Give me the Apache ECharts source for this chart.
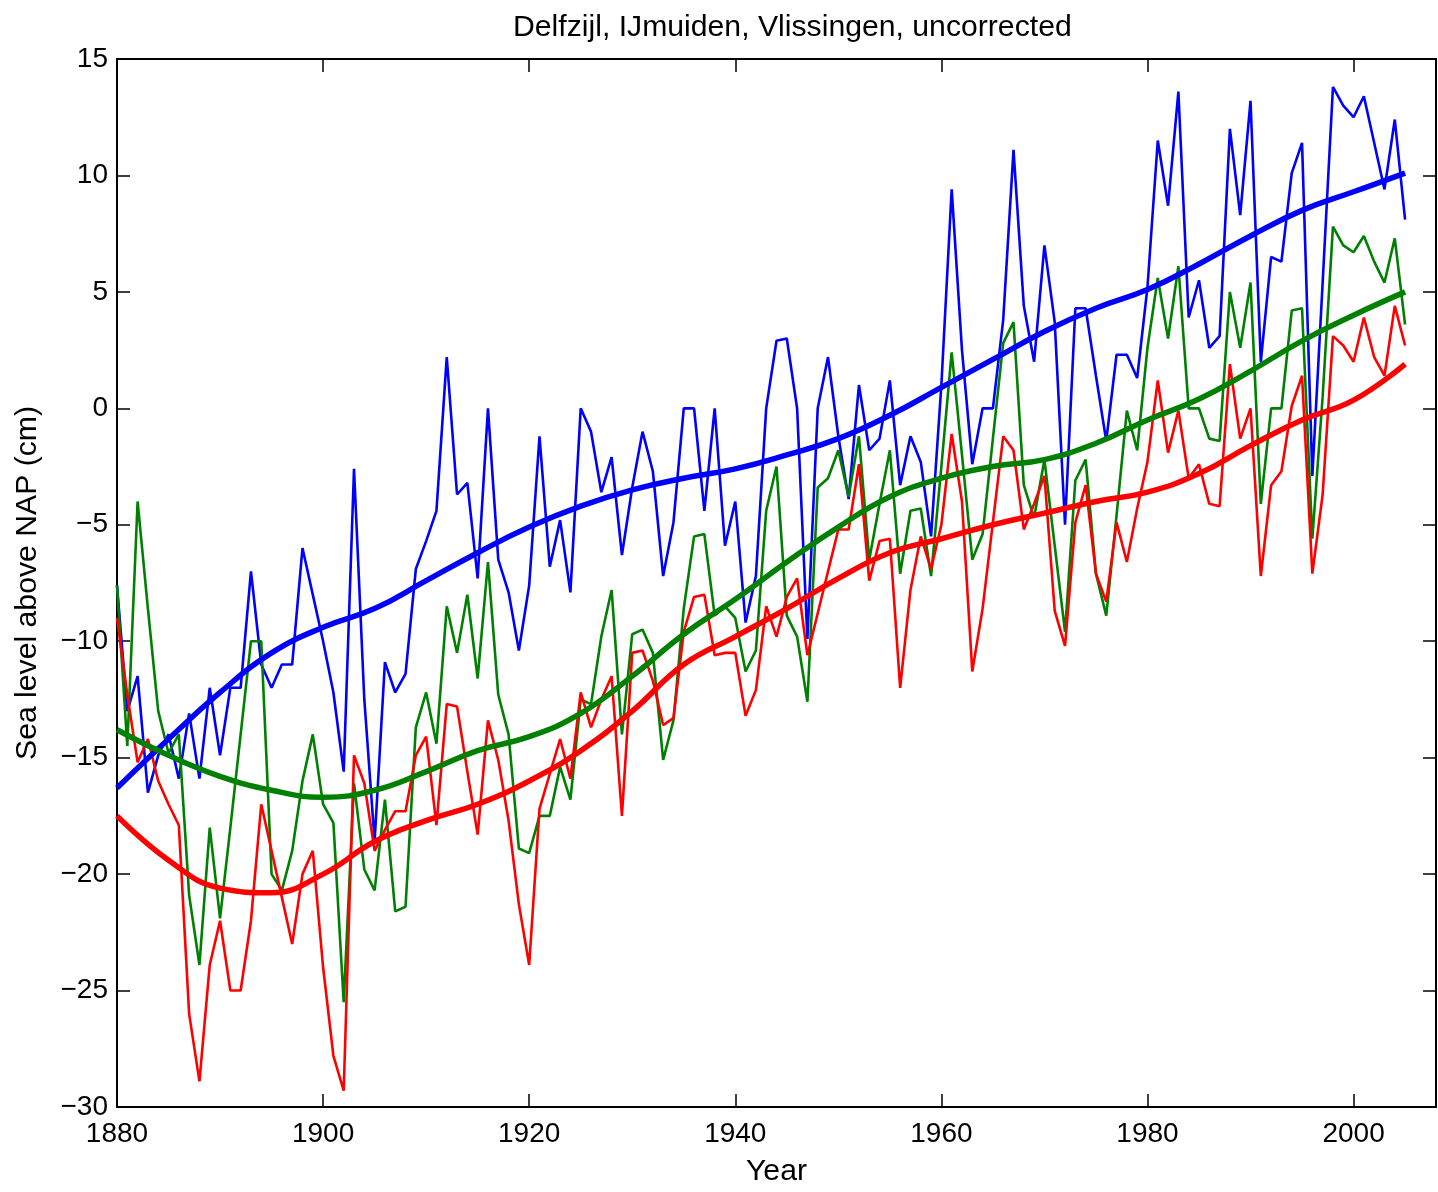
<!DOCTYPE html>
<html>
<head>
<meta charset="utf-8">
<script src="https://cdn.jsdelivr.net/npm/echarts@6/dist/echarts.min.js"></script>
<style>
html,body{margin:0;padding:0;background:#fff;}
#chart{width:1438px;height:1192px;}
</style>
</head>
<body>
<div id="chart"></div>
<script>
// ---- data ----
const titleText = 'Delfzijl, IJmuiden, Vlissingen, uncorrected';
const xAxisName = 'Year';
const yAxisName = 'Sea level above NAP (cm)';

const years = [1880,1881,1882,1883,1884,1885,1886,1887,1888,1889,
1890,1891,1892,1893,1894,1895,1896,1897,1898,1899,
1900,1901,1902,1903,1904,1905,1906,1907,1908,1909,
1910,1911,1912,1913,1914,1915,1916,1917,1918,1919,
1920,1921,1922,1923,1924,1925,1926,1927,1928,1929,
1930,1931,1932,1933,1934,1935,1936,1937,1938,1939,
1940,1941,1942,1943,1944,1945,1946,1947,1948,1949,
1950,1951,1952,1953,1954,1955,1956,1957,1958,1959,
1960,1961,1962,1963,1964,1965,1966,1967,1968,1969,
1970,1971,1972,1973,1974,1975,1976,1977,1978,1979,
1980,1981,1982,1983,1984,1985,1986,1987,1988,1989,
1990,1991,1992,1993,1994,1995,1996,1997,1998,1999,
2000,2001,2002,2003,2004,2005];

// blue
const delfzijl = [-7.6,-13.0,-11.5,-16.5,-14.9,-14.0,-15.9,-13.1,-15.9,-12.0,
-14.9,-12.0,-12.0,-7.0,-11.0,-12.0,-11.0,-11.0,-6.0,-8.0,
-10.0,-12.2,-15.6,-2.6,-12.5,-18.6,-10.9,-12.2,-11.4,-6.9,
-5.7,-4.4,2.2,-3.7,-3.2,-7.3,0.0,-6.5,-7.9,-10.4,
-7.6,-1.2,-6.8,-4.8,-7.9,0.0,-1.0,-3.6,-2.1,-6.3,
-3.4,-1.0,-2.7,-7.2,-4.9,0.0,0.0,-4.4,0.0,-5.9,
-4.0,-9.2,-7.2,0.0,2.9,3.0,0.0,-9.9,0.0,2.2,
-1.2,-3.9,1.0,-1.8,-1.3,1.2,-3.3,-1.2,-2.3,-5.5,
1.0,9.4,2.5,-2.4,0.0,0.0,3.8,11.1,4.4,2.0,
7.0,3.7,-5.0,4.3,4.3,1.4,-1.4,2.3,2.3,1.3,
5.2,11.5,8.7,13.6,3.9,5.5,2.6,3.1,12.0,8.3,
13.2,2.0,6.5,6.3,10.1,11.4,-2.9,5.4,13.8,13.0,
12.5,13.4,11.4,9.4,12.4,8.1];

// green
const ijmuiden = [-7.6,-14.5,-4.0,-8.6,-13.0,-14.8,-14.0,-20.9,-23.9,-18.0,
-21.9,-18.0,-14.0,-10.0,-10.0,-20.0,-20.7,-19.0,-16.0,-14.0,
-17.0,-17.8,-25.5,-16.1,-19.8,-20.7,-16.8,-21.6,-21.4,-13.7,
-12.2,-14.4,-8.5,-10.5,-8.0,-11.6,-6.6,-12.3,-14.0,-18.9,
-19.1,-17.5,-17.5,-15.4,-16.8,-12.5,-12.7,-9.8,-7.8,-14.0,
-9.7,-9.5,-10.5,-15.1,-13.4,-8.6,-5.5,-5.4,-8.9,-8.5,
-9.0,-11.3,-10.4,-4.4,-2.5,-8.9,-9.8,-12.6,-3.4,-3.0,
-1.8,-3.8,-1.2,-6.5,-4.1,-1.8,-7.1,-4.4,-4.3,-7.2,
-2.5,2.4,-2.0,-6.5,-5.4,-1.3,2.8,3.7,-3.3,-4.7,
-2.2,-5.9,-9.6,-3.1,-2.2,-7.1,-8.9,-4.6,-0.1,-1.8,
2.6,5.6,3.0,6.1,0.0,0.0,-1.3,-1.4,5.0,2.6,
5.4,-4.1,0.0,0.0,4.2,4.3,-5.6,0.5,7.8,7.0,
6.7,7.4,6.3,5.4,7.3,3.6];

// red
const vlissingen = [-9.0,-12.3,-15.2,-14.2,-16.0,-17.0,-17.9,-26.0,-28.9,-23.9,
-22.0,-25.0,-25.0,-22.0,-17.0,-19.0,-21.0,-23.0,-20.0,-19.0,
-24.0,-27.8,-29.3,-14.9,-16.1,-19.0,-18.1,-17.3,-17.3,-14.9,
-14.1,-17.9,-12.7,-12.8,-15.6,-18.3,-13.4,-15.1,-17.7,-21.3,
-23.9,-17.2,-15.7,-14.2,-15.9,-12.2,-13.7,-12.5,-11.5,-17.5,
-10.5,-10.4,-11.7,-13.6,-13.3,-9.6,-8.1,-8.0,-10.6,-10.5,
-10.5,-13.2,-12.1,-8.5,-9.8,-8.1,-7.3,-10.6,-8.8,-7.0,
-5.2,-5.2,-2.4,-7.4,-5.7,-5.6,-12.0,-7.8,-5.5,-6.9,
-5.0,-1.1,-4.0,-11.3,-8.6,-4.9,-1.2,-1.8,-5.2,-4.1,
-2.9,-8.7,-10.2,-4.9,-3.3,-7.1,-8.3,-4.9,-6.6,-4.3,
-2.3,1.2,-1.9,-0.1,-3.0,-2.4,-4.1,-4.2,1.9,-1.3,
0.0,-7.2,-3.3,-2.7,0.1,1.4,-7.1,-3.7,3.1,2.7,
2.0,3.9,2.2,1.4,4.4,2.7];

// smoothed trends, read every 5 years
const smoothYears = [1880,1885,1890,1895,1900,1905,1910,1915,1920,1925,1930,1935,1940,
1945,1950,1955,1960,1965,1970,1975,1980,1985,1990,1995,2000,2005];
const delfzijlTrend = [-16.3,-14.2,-12.2,-10.5,-9.4,-8.6,-7.4,-6.2,-5.1,-4.2,-3.5,-3.0,-2.6,
-2.0,-1.3,-0.3,0.9,2.1,3.3,4.3,5.1,6.2,7.4,8.5,9.3,10.1];
const ijmuidenTrend = [-13.8,-14.9,-15.8,-16.4,-16.7,-16.4,-15.6,-14.7,-14.1,-13.1,-11.5,-9.7,-8.2,
-6.6,-5.1,-3.8,-3.0,-2.5,-2.2,-1.5,-0.5,0.4,1.6,2.9,4.0,5.0];
const vlissingenTrend = [-17.5,-19.4,-20.6,-20.8,-20.0,-18.6,-17.7,-17.0,-16.0,-14.7,-13.0,-11.0,-9.8,
-8.6,-7.3,-6.2,-5.6,-5.0,-4.5,-4.0,-3.6,-2.8,-1.6,-0.5,0.35,1.9];

// ---- chart ----
const font = "'Liberation Sans', Arial, Helvetica, sans-serif";
const fs = 28;      // tick labels
const fsBig = 30.2; // title and axis names
const pair = (xs, ys) => xs.map((x, i) => [x, ys[i]]);
const fmtY = v => (v < 0 ? '\u2212' + Math.abs(v) : String(v));

const axisLine = {show: true, onZero: false, lineStyle: {color: '#000', width: 2}};
const axisTick = {show: true, inside: true, length: 13, lineStyle: {color: '#000', width: 1.5}};
const txt = {fontFamily: font, fontSize: fs, color: '#000'};
const txtBig = {fontFamily: font, fontSize: fsBig, color: '#000'};

function thin(data, color) {
  return {type: 'line', data, symbol: 'none', smooth: false,
          lineStyle: {color, width: 2.6}, itemStyle: {color}, z: 2};
}
function thick(data, color) {
  return {type: 'line', data, symbol: 'none', smooth: 0.45,
          lineStyle: {color, width: 5.5}, itemStyle: {color}, z: 3};
}

const option = {
  animation: false,
  backgroundColor: '#fff',
  title: {text: titleText, left: 508, top: 8,
          textStyle: {fontFamily: font, fontSize: fsBig, fontWeight: 'normal', color: '#000'}},
  grid: {left: 117, top: 59, right: 2, bottom: 77, containLabel: false},
  xAxis: [
    {type: 'value', min: 1880, max: 2008, interval: 20, position: 'bottom',
     name: xAxisName, nameLocation: 'middle', nameGap: 50, nameTextStyle: txtBig,
     axisLine, axisTick,
     axisLabel: Object.assign({margin: 13, showMaxLabel: false,
        formatter: v => (v % 20 === 0 ? String(v) : '')}, txt),
     splitLine: {show: false}},
    {type: 'value', min: 1880, max: 2008, interval: 20, position: 'top',
     axisLine, axisTick, axisLabel: {show: false}, splitLine: {show: false}}
  ],
  yAxis: [
    {type: 'value', min: -30, max: 15, interval: 5, position: 'left',
     name: yAxisName, nameLocation: 'middle', nameGap: 74, nameTextStyle: txtBig,
     axisLine, axisTick,
     axisLabel: Object.assign({margin: 9, formatter: fmtY}, txt),
     splitLine: {show: false}},
    {type: 'value', min: -30, max: 15, interval: 5, position: 'right',
     axisLine, axisTick, axisLabel: {show: false}, splitLine: {show: false}}
  ],
  series: [
    thin(pair(years, delfzijl), '#0000ff'),
    thin(pair(years, ijmuiden), '#008000'),
    thin(pair(years, vlissingen), '#ff0000'),
    thick(pair(smoothYears, delfzijlTrend), '#0000ff'),
    thick(pair(smoothYears, ijmuidenTrend), '#008000'),
    thick(pair(smoothYears, vlissingenTrend), '#ff0000')
  ]
};

const chart = echarts.init(document.getElementById('chart'), null, {renderer: 'canvas'});
chart.setOption(option);
</script>
</body>
</html>
